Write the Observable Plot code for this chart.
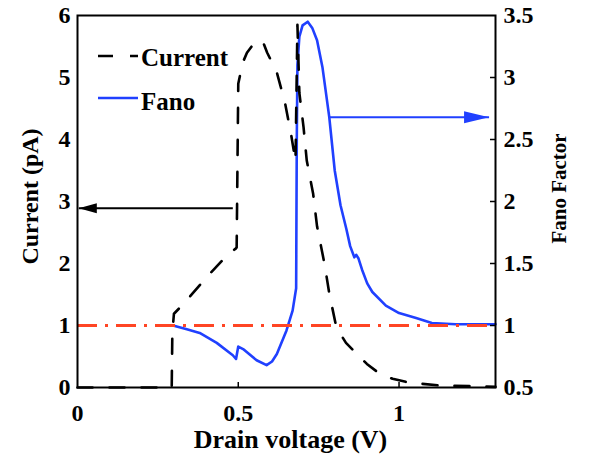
<!DOCTYPE html>
<html><head><meta charset="utf-8">
<script src="https://cdn.jsdelivr.net/npm/d3@7"></script>
<script src="https://cdn.jsdelivr.net/npm/@observablehq/plot@0.6"></script>
<style>
html,body{margin:0;padding:0;background:#fff;}
#wrap{position:relative;width:596px;height:460px;}
#legend{position:absolute;left:0;top:0;pointer-events:none;}
</style></head><body>
<div id="wrap"></div>
<script>
// ---- data ----
const currentV  = [0, 0.293, 0.295, 0.30, 0.33, 0.40, 0.465, 0.492, 0.495, 0.50, 0.514, 0.527, 0.55, 0.565, 0.578, 0.59, 0.62, 0.645, 0.665, 0.678, 0.684, 0.69, 0.703, 0.713, 0.733, 0.745, 0.768, 0.783, 0.805, 0.835, 0.867, 0.90, 0.938, 0.98, 1.03, 1.13, 1.24, 1.3];
const currentPA = [0, 0, 0.9, 1.19, 1.35, 1.77, 2.13, 2.24, 2.26, 4.9, 5.24, 5.4, 5.56, 5.6, 5.56, 5.4, 5.08, 4.6, 4.06, 3.65, 5.85, 4.75, 4.2, 3.66, 3.12, 2.6, 2.0, 1.52, 0.97, 0.72, 0.55, 0.38, 0.23, 0.14, 0.08, 0.03, 0.02, 0.01];
const fanoV = [0.297, 0.34, 0.38, 0.433, 0.483, 0.493, 0.500, 0.515, 0.557, 0.588, 0.605, 0.62, 0.65, 0.669, 0.680, 0.682, 0.684, 0.690, 0.700, 0.716, 0.730, 0.745, 0.762, 0.783, 0.800, 0.818, 0.836, 0.848, 0.861, 0.867, 0.874, 0.885, 0.901, 0.917, 0.959, 1.0, 1.053, 1.102, 1.176, 1.3];
const fanoF = [1.0, 0.97, 0.94, 0.86, 0.76, 0.73, 0.83, 0.81, 0.72, 0.68, 0.71, 0.77, 0.96, 1.12, 1.30, 2.5, 3.1, 3.33, 3.42, 3.45, 3.40, 3.30, 3.08, 2.68, 2.25, 1.97, 1.78, 1.64, 1.55, 1.57, 1.54, 1.45, 1.34, 1.27, 1.16, 1.10, 1.06, 1.02, 1.01, 1.01];
const currentTicks = [0, 1, 2, 3, 4, 5, 6];
const fanoTicks = [0.5, 1, 1.5, 2, 2.5, 3, 3.5];
const voltageTicks = [0, 0.5, 1];
const fanoReference = [1];
// annotation arrows: [from V, to V, level]
const currentArrow = [0.483, 0.004, 2.89];   // level in pA
const fanoArrow = [0.785, 1.28, 2.68];       // level in Fano units
const seriesNames = ["Current", "Fano"];

// ---- helpers ----
const cDomain = [0, 6], fDomain = [0.5, 3.5];
const toC = f => (f - fDomain[0]) * (cDomain[1] - cDomain[0]) / (fDomain[1] - fDomain[0]) + cDomain[0];
const currentData = currentV.map((v, i) => ({v, c: currentPA[i]}));
const fanoData = fanoV.map((v, i) => ({v, c: toC(fanoF[i])}));
const arrows = [
  {x1: currentArrow[0], x2: currentArrow[1], y: currentArrow[2]},
  {x1: fanoArrow[0], x2: fanoArrow[1], y: toC(fanoArrow[2])}
];
const fanoLabel = new Map(fanoTicks.map(f => [toC(f), String(f)]));
const headLeft = {draw(ctx) { ctx.moveTo(0, 0); ctx.lineTo(18, -5); ctx.lineTo(18, 5); ctx.closePath(); }};
const headRight = {draw(ctx) { ctx.moveTo(0, 0); ctx.lineTo(-25, -6); ctx.lineTo(-25, 6); ctx.closePath(); }};

const FONT = "'Liberation Serif', 'Times New Roman', serif";
const BLUE = "#2040ff", RED = "#ff4524";

const chart = Plot.plot({
  width: 596, height: 460,
  marginLeft: 77, marginRight: 101, marginTop: 15, marginBottom: 73,
  style: {fontFamily: FONT, fontSize: "24px", color: "#000", background: "#fff"},
  x: {domain: [0, 1.3]},
  y: {domain: cDomain},
  marks: [
    Plot.line(fanoData, {x: "v", y: "c", stroke: BLUE, strokeWidth: 2.6, curve: "linear"}),
    Plot.line(currentData, {x: "v", y: "c", stroke: "#000", strokeWidth: 2.6, strokeDasharray: "15,17", curve: "linear"}),
    Plot.ruleY(fanoReference, {y: d => toC(d), stroke: RED, strokeWidth: 3, strokeDasharray: "20,8,3,8"}),
    Plot.link([arrows[0]], {x1: "x1", x2: "x2", y1: "y", y2: "y", stroke: "#000", strokeWidth: 2}),
    Plot.dot([arrows[0]], {x: "x2", y: "y", r: 5, symbol: headLeft, fill: "#000", stroke: null}),
    Plot.link([arrows[1]], {x1: "x1", x2: "x2", y1: "y", y2: "y", stroke: BLUE, strokeWidth: 2}),
    Plot.dot([arrows[1]], {x: "x2", y: "y", r: 5, symbol: headRight, fill: BLUE, stroke: null}),
    Plot.tickX(voltageTicks.filter(d => d > 0), {x: d => d, insetTop: 367, stroke: "#000", strokeWidth: 1.5}),
    Plot.tickY(fanoTicks.slice(1, -1), {y: d => toC(d), insetLeft: 413, stroke: "#000", strokeWidth: 1.5}),
    Plot.frame({stroke: "#000", strokeWidth: 2}),
    Plot.axisX({ticks: voltageTicks, tickFormat: d => String(d), tickSize: 0, tickPadding: 16, label: null, fontSize: 24, fontWeight: "bold"}),
    Plot.axisY({anchor: "left", ticks: currentTicks, tickFormat: d => String(d), tickSize: 0, tickPadding: 7, label: null, fontSize: 24, fontWeight: "bold"}),
    Plot.axisY({anchor: "right", ticks: fanoTicks.map(toC), tickFormat: c => fanoLabel.get(c), tickSize: 0, tickPadding: 8, label: null, fontSize: 24, fontWeight: "bold"}),
    Plot.text(["Drain voltage (V)"], {text: d => d, frameAnchor: "bottom", textAnchor: "middle", lineAnchor: "middle", dx: 4, dy: 52, fontSize: 26, fontWeight: "bold", fill: "#000"}),
    Plot.text(["Current (pA)"], {text: d => d, frameAnchor: "left", textAnchor: "middle", lineAnchor: "middle", rotate: -90, dx: -47, dy: -5, fontSize: 24, fontWeight: "bold", fill: "#000"}),
    Plot.text(["Fano Factor"], {text: d => d, frameAnchor: "right", textAnchor: "middle", lineAnchor: "middle", rotate: -90, dx: 64, dy: -13, fontSize: 21, fontWeight: "bold", fill: "#000"})
  ]
});

const wrap = document.getElementById("wrap");
wrap.appendChild(chart);

// legend overlay
const ns = "http://www.w3.org/2000/svg";
const leg = document.createElementNS(ns, "svg");
leg.setAttribute("id", "legend");
leg.setAttribute("width", 596); leg.setAttribute("height", 460);
const items = [
  {name: seriesNames[0], y: 56, ty: 66, stroke: "#000", dash: "15,17"},
  {name: seriesNames[1], y: 98, ty: 110, stroke: BLUE, dash: null}
];
for (const it of items) {
  const ln = document.createElementNS(ns, "line");
  ln.setAttribute("x1", 98); ln.setAttribute("x2", 138);
  ln.setAttribute("y1", it.y); ln.setAttribute("y2", it.y);
  ln.setAttribute("stroke", it.stroke); ln.setAttribute("stroke-width", 2.6);
  if (it.dash) ln.setAttribute("stroke-dasharray", it.dash);
  leg.appendChild(ln);
  const tx = document.createElementNS(ns, "text");
  tx.setAttribute("x", 141); tx.setAttribute("y", it.ty);
  tx.setAttribute("font-family", FONT); tx.setAttribute("font-size", 25);
  tx.setAttribute("font-weight", "bold");
  tx.textContent = it.name;
  leg.appendChild(tx);
}
wrap.appendChild(leg);
</script>
</body></html>
